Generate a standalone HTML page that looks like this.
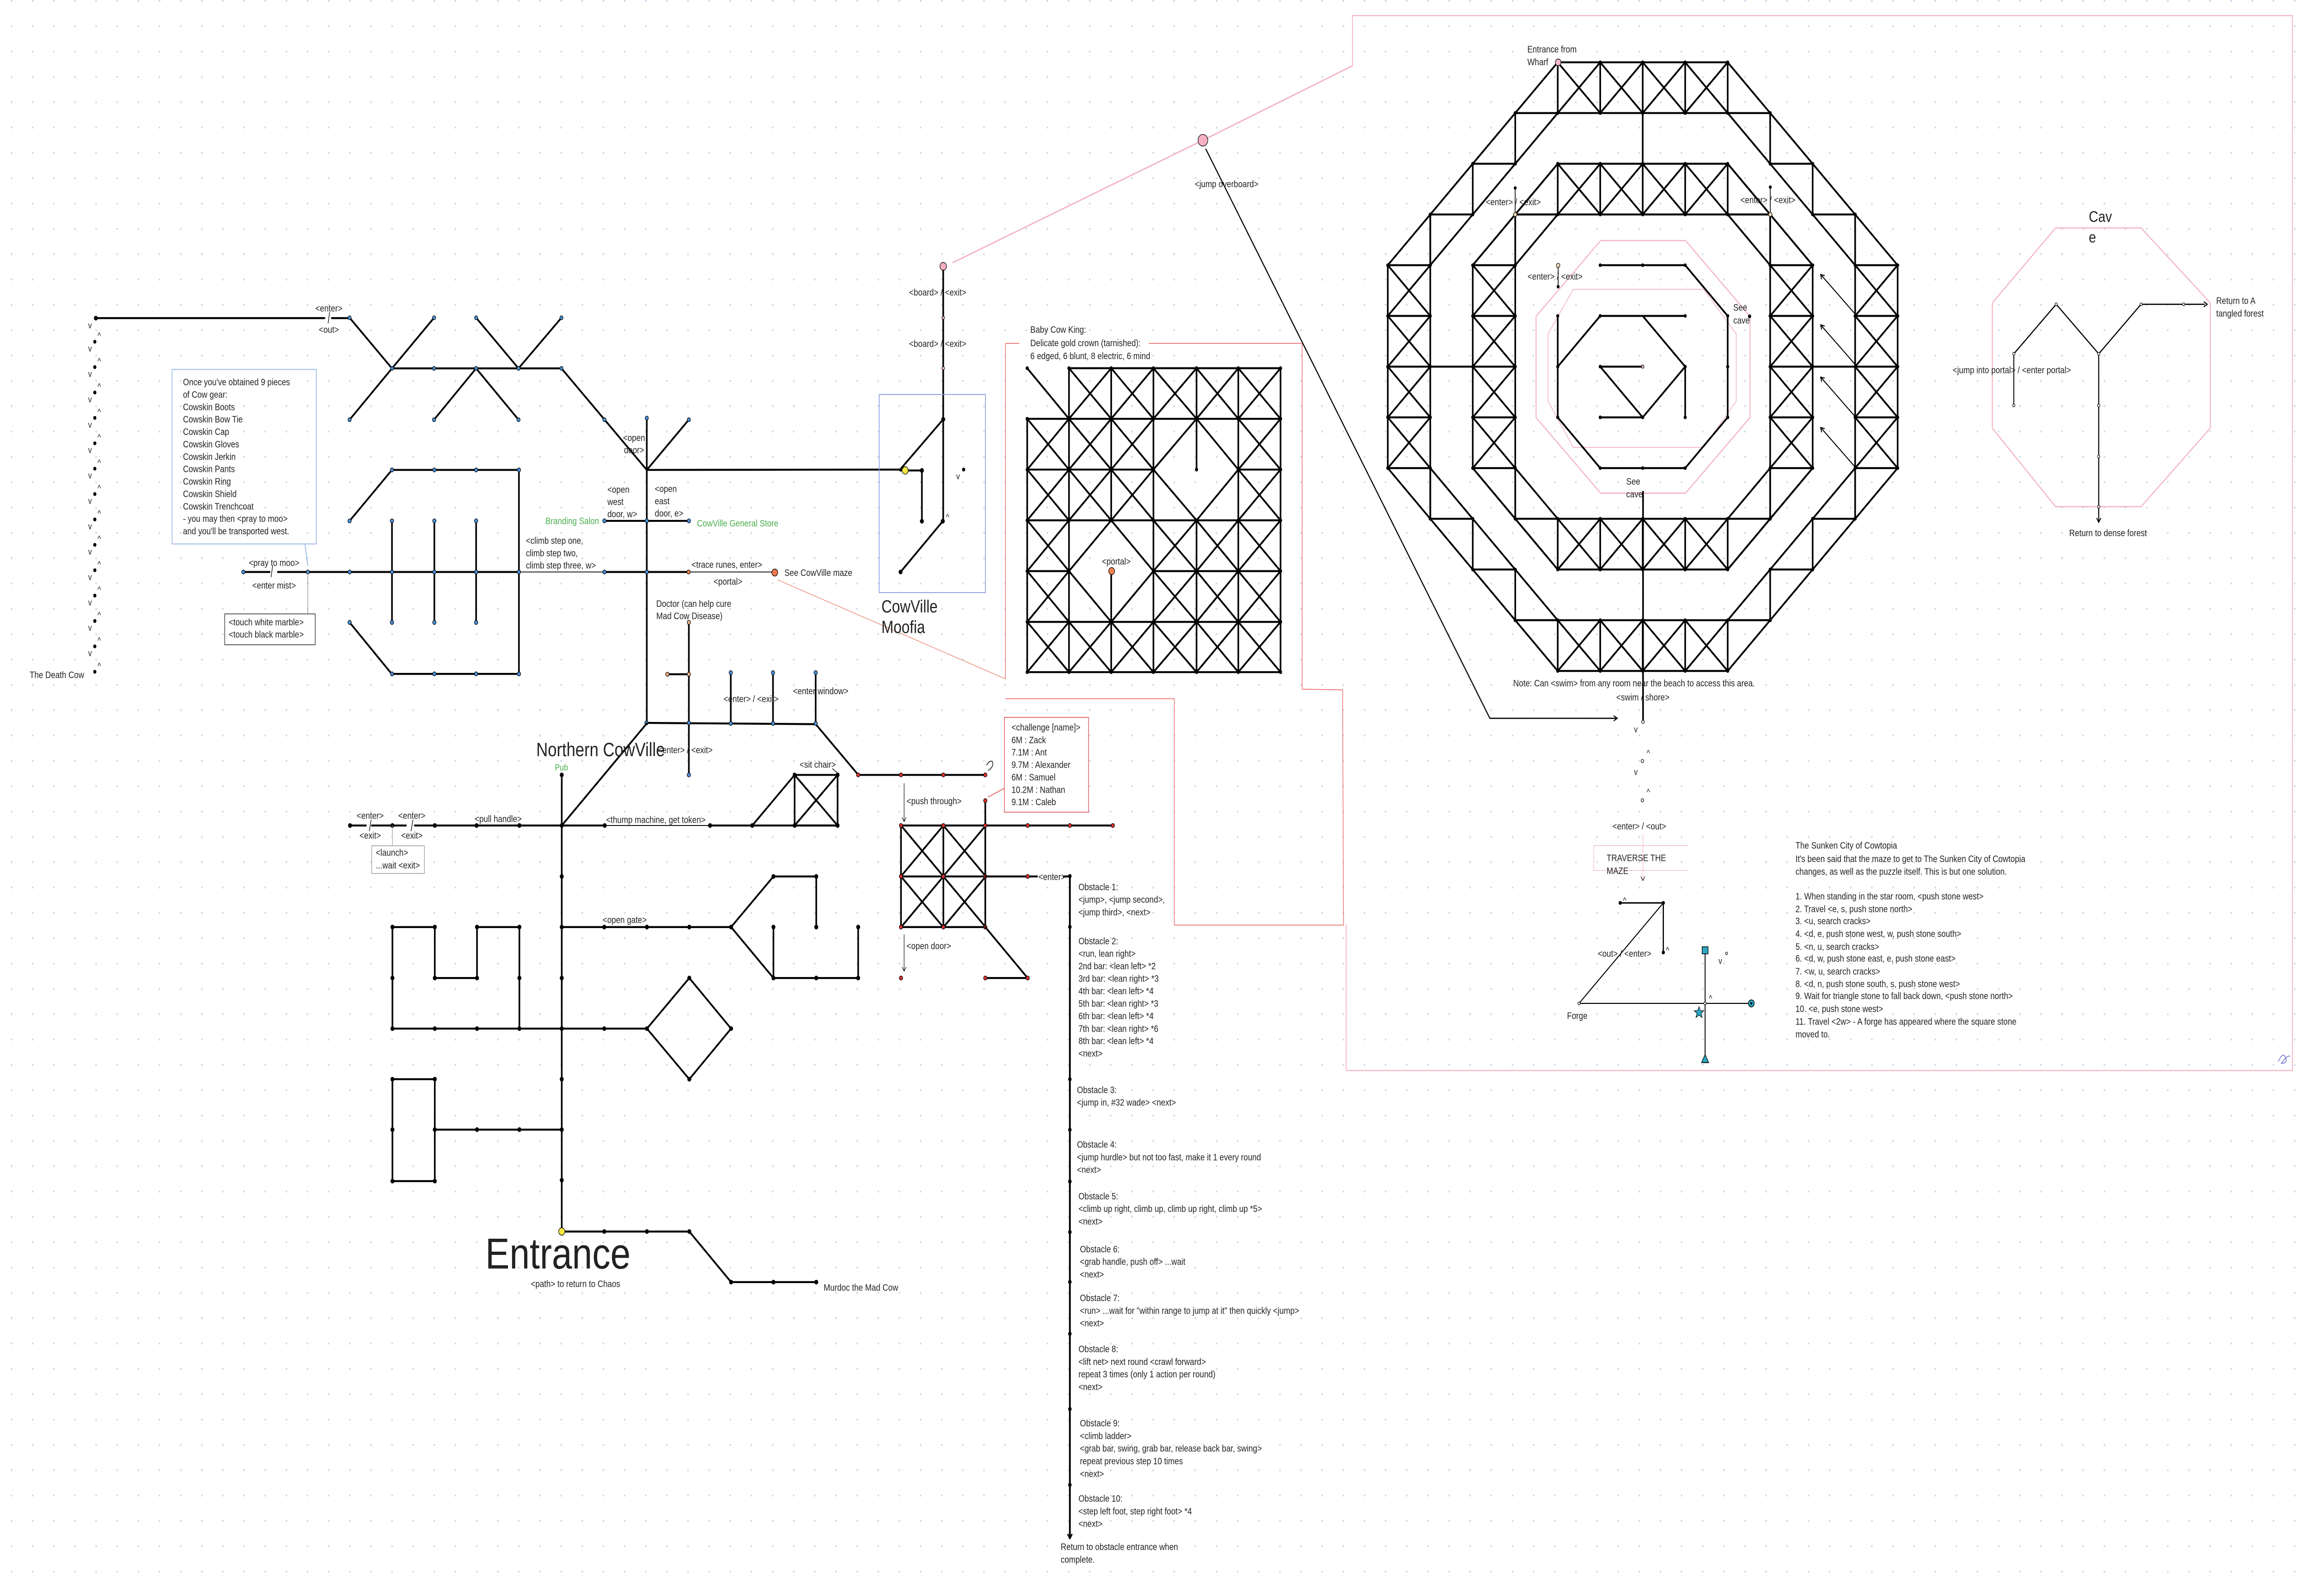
<!DOCTYPE html>
<html><head><meta charset="utf-8"><style>
html,body{margin:0;padding:0;background:#fff;width:100%;height:100%;overflow:hidden;}
svg{display:block;width:100vw;height:100vh;}
text{font-family:"Liberation Sans",sans-serif;fill:#222;font-size:5.3px;}
</style></head><body>
<svg id="s" xmlns="http://www.w3.org/2000/svg" viewBox="0 0 1560 899" preserveAspectRatio="none">
<defs>
<pattern id="dots" x="7.3" y="0" width="14.27" height="14.27" patternUnits="userSpaceOnUse">
<circle cx="0.5" cy="0.5" r="0.55" fill="#c3d5f0"/>
</pattern>
</defs>
<rect width="1560" height="899" fill="#fff"/>
<rect width="1560" height="899" fill="url(#dots)"/>
<g id="shapes"></g>
<g id="texts">
<text x="20" y="382">The Death Cow</text>
<text x="222" y="175.5" text-anchor="middle">&lt;enter&gt;</text>
<text x="222" y="187.5" text-anchor="middle">&lt;out&gt;</text>
<rect x="116.2" y="208.1" width="97.3" height="98.3" fill="none" stroke="#a9c2ec" stroke-width="0.6"/>
<g>
<text x="123.5" y="217">Once you've obtained 9 pieces</text>
<text x="123.5" y="224">of Cow gear:</text>
<text x="123.5" y="231">Cowskin Boots</text>
<text x="123.5" y="238">Cowskin Bow Tie</text>
<text x="123.5" y="245">Cowskin Cap</text>
<text x="123.5" y="252">Cowskin Gloves</text>
<text x="123.5" y="259">Cowskin Jerkin</text>
<text x="123.5" y="266">Cowskin Pants</text>
<text x="123.5" y="273">Cowskin Ring</text>
<text x="123.5" y="280">Cowskin Shield</text>
<text x="123.5" y="287">Cowskin Trenchcoat</text>
<text x="123.5" y="294">- you may then &lt;pray to moo&gt;</text>
<text x="123.5" y="301">and you'll be transported west.</text>
</g>
<text x="185" y="318.8" text-anchor="middle">&lt;pray to moo&gt;</text>
<text x="185" y="331.6" text-anchor="middle">&lt;enter mist&gt;</text>
<rect x="151.7" y="345.8" width="61.1" height="17.4" fill="#fff" stroke="#555" stroke-width="0.5"/>
<text x="154.4" y="352.2">&lt;touch white marble&gt;</text>
<text x="154.4" y="359.2">&lt;touch black marble&gt;</text>
<text x="428" y="248.4" text-anchor="middle">&lt;open</text>
<text x="428" y="255.3" text-anchor="middle">door&gt;</text>
<text x="410" y="277.5">&lt;open</text>
<text x="410" y="284.4">west</text>
<text x="410" y="291.3">door, w&gt;</text>
<text x="442" y="277.1">&lt;open</text>
<text x="442" y="284">east</text>
<text x="442" y="291">door, e&gt;</text>
<text x="404.4" y="295.3" text-anchor="end" style="fill:#4caf50">Branding Salon</text>
<text x="470.5" y="296.6" style="fill:#4caf50">CowVille General Store</text>
<text x="355" y="306.3">&lt;climb step one,</text>
<text x="355" y="313.3">climb step two,</text>
<text x="355" y="320.2">climb step three, w&gt;</text>
<text x="490.7" y="319.9" text-anchor="middle">&lt;trace runes, enter&gt;</text>
<text x="491.4" y="329.4" text-anchor="middle">&lt;portal&gt;</text>
<text x="529.5" y="324.4">See CowVille maze</text>
<text x="443" y="341.8">Doctor (can help cure</text>
<text x="443" y="348.7">Mad Cow Disease)</text>
<text x="507" y="395.5" text-anchor="middle">&lt;enter&gt; / &lt;exit&gt;</text>
<text x="554" y="391" text-anchor="middle">&lt;enter window&gt;</text>
<text x="362" y="426" style="font-size:10.8px">Northern CowVille</text>
<text x="462.5" y="424.3" text-anchor="middle">&lt;enter&gt; / &lt;exit&gt;</text>
<text x="379" y="434" text-anchor="middle" style="fill:#4caf50;font-size:5px">Pub</text>
<text x="249.9" y="461.2" text-anchor="middle">&lt;enter&gt;</text>
<text x="249.9" y="472.4" text-anchor="middle">&lt;exit&gt;</text>
<text x="278" y="461.2" text-anchor="middle">&lt;enter&gt;</text>
<text x="278" y="472.4" text-anchor="middle">&lt;exit&gt;</text>
<rect x="250.9" y="476.4" width="35.6" height="15.6" fill="#fff" stroke="#999" stroke-width="0.4"/>
<text x="253.7" y="482.1">&lt;launch&gt;</text>
<text x="253.7" y="489.2">...wait &lt;exit&gt;</text>
<text x="336.3" y="463.1" text-anchor="middle">&lt;pull handle&gt;</text>
<text x="442.7" y="463.5" text-anchor="middle">&lt;thump machine, get token&gt;</text>
<text x="552" y="432.5" text-anchor="middle">&lt;sit chair&gt;</text>
<text x="421.7" y="519.9" text-anchor="middle">&lt;open gate&gt;</text>
<text x="327.6" y="714.5" style="font-size:24.5px">Entrance</text>
<text x="388.5" y="725" text-anchor="middle">&lt;path&gt; to return to Chaos</text>
<text x="556" y="727">Murdoc the Mad Cow</text>
<text x="633" y="166.5" text-anchor="middle">&lt;board&gt; / &lt;exit&gt;</text>
<text x="633" y="195.4" text-anchor="middle">&lt;board&gt; / &lt;exit&gt;</text>
<rect x="593.5" y="222.2" width="71.7" height="111.6" fill="none" stroke="#8d9de0" stroke-width="0.5"/>
<text x="595" y="345" style="font-size:9.8px">CowVille</text>
<text x="595" y="356.5" style="font-size:9.8px">Moofia</text>
<text x="695.5" y="187.5">Baby Cow King:</text>
<text x="695.5" y="195">Delicate gold crown (tarnished):</text>
<text x="695.5" y="202.3">6 edged, 6 blunt, 8 electric, 6 mind</text>
<text x="753.5" y="318" text-anchor="middle">&lt;portal&gt;</text>
<text x="828" y="105.5" text-anchor="middle">&lt;jump overboard&gt;</text>
<rect x="678" y="404.1" width="56.8" height="53.4" fill="#fff" stroke="#e06a6a" stroke-width="0.5"/>
<text x="682.8" y="411.5">&lt;challenge [name]&gt;</text>
<text x="682.8" y="418.6">6M : Zack</text>
<text x="682.8" y="425.6">7.1M : Ant</text>
<text x="682.8" y="432.6">9.7M : Alexander</text>
<text x="682.8" y="439.6">6M : Samuel</text>
<text x="682.8" y="446.6">10.2M : Nathan</text>
<text x="682.8" y="453.6">9.1M : Caleb</text>
<text x="612" y="453">&lt;push through&gt;</text>
<text x="612" y="534.6">&lt;open door&gt;</text>
<text x="701" y="495.7">&lt;enter&gt;</text>
<g>
<text x="728" y="501.4">Obstacle 1:</text>
<text x="728" y="508.5">&lt;jump&gt;, &lt;jump second&gt;,</text>
<text x="728" y="515.6">&lt;jump third&gt;, &lt;next&gt;</text>
<text x="728" y="531.9">Obstacle 2:</text>
<text x="728" y="538.9">&lt;run, lean right&gt;</text>
<text x="728" y="546">2nd bar: &lt;lean left&gt; *2</text>
<text x="728" y="553">3rd bar: &lt;lean right&gt; *3</text>
<text x="728" y="560">4th bar: &lt;lean left&gt; *4</text>
<text x="728" y="567.1">5th bar: &lt;lean right&gt; *3</text>
<text x="728" y="574.1">6th bar: &lt;lean left&gt; *4</text>
<text x="728" y="581.2">7th bar: &lt;lean right&gt; *6</text>
<text x="728" y="588.2">8th bar: &lt;lean left&gt; *4</text>
<text x="728" y="595.2">&lt;next&gt;</text>
<text x="727" y="615.7">Obstacle 3:</text>
<text x="727" y="622.8">&lt;jump in, #32 wade&gt; &lt;next&gt;</text>
<text x="727" y="646.5">Obstacle 4:</text>
<text x="727" y="653.6">&lt;jump hurdle&gt; but not too fast, make it 1 every round</text>
<text x="727" y="660.7">&lt;next&gt;</text>
<text x="728" y="675.6">Obstacle 5:</text>
<text x="728" y="682.7">&lt;climb up right, climb up, climb up right, climb up *5&gt;</text>
<text x="728" y="689.8">&lt;next&gt;</text>
<text x="729" y="705.4">Obstacle 6:</text>
<text x="729" y="712.5">&lt;grab handle, push off&gt; ...wait</text>
<text x="729" y="719.6">&lt;next&gt;</text>
<text x="729" y="732.9">Obstacle 7:</text>
<text x="729" y="740">&lt;run&gt; ...wait for "within range to jump at it" then quickly &lt;jump&gt;</text>
<text x="729" y="747.1">&lt;next&gt;</text>
<text x="728" y="761.7">Obstacle 8:</text>
<text x="728" y="768.8">&lt;lift net&gt; next round &lt;crawl forward&gt;</text>
<text x="728" y="775.9">repeat 3 times (only 1 action per round)</text>
<text x="728" y="783">&lt;next&gt;</text>
<text x="729" y="803.4">Obstacle 9:</text>
<text x="729" y="810.6">&lt;climb ladder&gt;</text>
<text x="729" y="817.7">&lt;grab bar, swing, grab bar, release back bar, swing&gt;</text>
<text x="729" y="824.8">repeat previous step 10 times</text>
<text x="729" y="832">&lt;next&gt;</text>
<text x="728" y="845.9">Obstacle 10:</text>
<text x="728" y="853">&lt;step left foot, step right foot&gt; *4</text>
<text x="728" y="860.1">&lt;next&gt;</text>
<text x="716" y="873.1">Return to obstacle entrance when</text>
<text x="716" y="880.2">complete.</text>
</g>
<text x="1031" y="29.5">Entrance from</text>
<text x="1031" y="36.7">Wharf</text>
<text x="1021.5" y="115.6" text-anchor="middle">&lt;enter&gt; / &lt;exit&gt;</text>
<text x="1193.4" y="114.4" text-anchor="middle">&lt;enter&gt; / &lt;exit&gt;</text>
<text x="1049.7" y="157.5" text-anchor="middle">&lt;enter&gt; / &lt;exit&gt;</text>
<text x="1170" y="175">See</text>
<text x="1170" y="182.2">cave</text>
<text x="1102.5" y="273" text-anchor="middle">See</text>
<text x="1103.3" y="280.2" text-anchor="middle">cave</text>
<text x="1021.5" y="386.6">Note: Can &lt;swim&gt; from any room near the beach to access this area.</text>
<text x="1109" y="394.6" text-anchor="middle">&lt;swim / shore&gt;</text>
<text x="1106.6" y="467.2" text-anchor="middle">&lt;enter&gt; / &lt;out&gt;</text>
<text x="1084.5" y="485.1">TRAVERSE THE</text>
<text x="1084.5" y="492.3">MAZE</text>
<text x="1096.6" y="538.9" text-anchor="middle">&lt;out&gt; / &lt;enter&gt;</text>
<text x="1064.7" y="574" text-anchor="middle">Forge</text>
<g>
<text x="1212" y="478">The Sunken City of Cowtopia</text>
<text x="1212" y="485.5">It's been said that the maze to get to The Sunken City of Cowtopia</text>
<text x="1212" y="492.7">changes, as well as the puzzle itself. This is but one solution.</text>
<text x="1212" y="506.6">1. When standing in the star room, &lt;push stone west&gt;</text>
<text x="1212" y="513.8">2. Travel &lt;e, s, push stone north&gt;</text>
<text x="1212" y="520.6">3. &lt;u, search cracks&gt;</text>
<text x="1212" y="527.8">4. &lt;d, e, push stone west, w, push stone south&gt;</text>
<text x="1212" y="535">5. &lt;n, u, search cracks&gt;</text>
<text x="1212" y="541.7">6. &lt;d, w, push stone east, e, push stone east&gt;</text>
<text x="1212" y="548.9">7. &lt;w, u, search cracks&gt;</text>
<text x="1212" y="556">8. &lt;d, n, push stone south, s, push stone west&gt;</text>
<text x="1212" y="562.8">9. Wait for triangle stone to fall back down, &lt;push stone north&gt;</text>
<text x="1212" y="570">10. &lt;e, push stone west&gt;</text>
<text x="1212" y="577.2">11. Travel &lt;2w&gt; - A forge has appeared where the square stone</text>
<text x="1212" y="584.4">moved to.</text>
</g>
<text x="1410" y="125" style="font-size:8.8px">Cav</text>
<text x="1410" y="136.5" style="font-size:8.8px">e</text>
<text x="1496" y="171.2">Return to A</text>
<text x="1496" y="178.4">tangled forest</text>
<text x="1358" y="210.3" text-anchor="middle">&lt;jump into portal&gt; / &lt;enter portal&gt;</text>
<text x="1423" y="302" text-anchor="middle">Return to dense forest</text>
</g>
</svg>
<script>
(function(){
var S=[];
function l(a,b,c,d,w,col){S.push('<line x1="'+a+'" y1="'+b+'" x2="'+c+'" y2="'+d+'" stroke="'+(col||'#000')+'" stroke-width="'+(w||1.1)+'" stroke-linecap="round"/>');}
function p(pts,w,col,closed){S.push('<'+(closed?'polygon':'polyline')+' points="'+pts.map(function(q){return q[0]+','+q[1]}).join(' ')+'" fill="none" stroke="'+(col||'#000')+'" stroke-width="'+(w||1.1)+'" stroke-linejoin="round"/>');}
function n(x,y,f,r){S.push('<circle cx="'+x+'" cy="'+y+'" r="'+(r||1.15)+'" fill="'+(f||'#000')+'" stroke="#000" stroke-width="0.35"/>');}
function t(x,y,s,sz){S.push('<text x="'+x+'" y="'+y+'" style="font-size:'+(sz||5.5)+'px">'+s+'</text>');}
function arr(x,y,dx,dy,w){var L=Math.hypot(dx,dy),ux=dx/L,uy=dy/L,s=2.2;l(x,y,x-ux*s-uy*s*0.6,y-uy*s+ux*s*0.6,w||0.6);l(x,y,x-ux*s+uy*s*0.6,y-uy*s-ux*s*0.6,w||0.6);}
var B='#4a90d9';
t(59.5,185,'v',5);
for(var k=0;k<14;k++){var y=192.5+14.3*k;n(64,y,'#000',0.9);t(65.8,y-1.6,'^',5);if(k<13)t(59.5,y+5.5,'v',5);}
l(64.7,179.2,219,179.2);l(224,179.2,236,179.2);l(222.5,176,221.5,182,0.4);n(64.7,179.2);
l(236,179,264.6,207.5);l(293,179,264.6,207.5);l(264.6,207.5,236,236.4);
l(321.4,179,350,207.5);l(379,179,350,207.5);
l(321.4,207.5,293,236.4);l(321.4,207.5,350,236.4);
l(264.6,207.5,379,207.5);
l(379,207.5,436.6,264.7);l(436.6,235.5,436.6,264.7);l(465,236.4,436.6,264.7);
[[236,179],[293,179],[321.4,179],[379,179],[264.6,207.5],[293,207.5],[321.4,207.5],[350,207.5],[379,207.5],[236,236.4],[293,236.4],[350,236.4],[408,236.4],[436.6,235.5],[465,236.4]].forEach(function(q){n(q[0],q[1],B,1.1)});
l(436.6,264.7,607.6,264.5);
l(436.6,264.7,436.6,407.5);
l(408,293.4,465,293.4);n(408,293.4,B);n(436.6,293.4,B);n(465,293.4,B);
l(164.3,322.2,182,322.2);l(187.6,322.2,350.3,322.2);l(184,319,183,325,0.4);
l(350.3,322.2,408,322.2,0.45);l(408,322.2,464.8,322.2);l(464.8,322.2,522,322.2,0.45);
n(164.3,322.2,B);n(207.8,322.2,B);n(408,322.2,B);n(436.6,322.2,B);n(464.8,322.2,'#f08050');n(523,322.5,'#f07850',2);
l(205.8,306.4,207.8,318.6,0.35,'#5b8fe0');l(207.8,322.2,207.8,345.8,0.35,'#888');
l(236,293.4,264.6,264.7);l(264.6,264.7,350.3,264.7);l(350.3,264.7,350.3,379.6);
l(236,350.6,264.6,379.8);l(264.6,379.6,350.3,379.6);
[264.6,293.2,321.4].forEach(function(x){l(x,293.4,x,350.6);n(x,293.4,B);n(x,350.6,B);n(x,264.7,B);n(x,379.6,B);n(x,322.2,B);});
n(236,322.2,B);n(350.3,322.2,B);n(236,293.4,B);n(236,350.6,B);n(350.3,264.7,B);n(350.3,379.6,B);
l(465,350.6,465,436.5);l(450.5,379.8,465,379.8);n(450.5,379.8,'#f0b080');n(465,379.8,'#f0b080');n(465,350.6,'#f0b080');
l(436.4,407.2,550.6,407.9);l(550.6,407.9,579.4,436.5);
[493.3,521.8,550.6].forEach(function(x){l(x,378.9,x,407.5);n(x,378.9,B);n(x,407.5,B);});
n(436.4,407.2,B);n(465,407.2,B);n(465,436.5,B);
l(436.6,407.5,379.2,465);
l(379.2,436.5,379.2,693.7);
[436.5,465,493.7,522.2,550.9,579.4,607.9,636.3,664.8].forEach(function(y){n(379.2,y)});
l(236.3,465,247,465);l(251,465,274,465);l(280,465,408.2,465);l(408.2,465,479.3,465,0.5);l(479.3,465,565.4,465);
l(250.5,462,249.3,468,0.4);l(278.7,462,277.5,468,0.4);
[236.3,264.9,293.5,321.7,350.6,408.2,479.3,507.8,536.4,565.4].forEach(function(x){n(x,465)});
l(264.9,465,264.9,476.4,0.35,'#999');
p([[536.4,436.5],[565.4,436.5],[565.4,465],[536.4,465]],1.1,'#000',true);
l(536.4,436.5,565.4,465);l(565.4,436.5,536.4,465);l(507.8,465,536.4,436.5);
n(536.4,436.5);n(565.4,436.5);l(562,433,566,436,0.4);
l(379.2,522.2,493.5,522.2);[407.9,436.7,465.3,493.5].forEach(function(x){n(x,522.2)});
l(493.5,522.2,522.1,493.7);l(493.5,522.2,522.1,550.9);
l(522.1,493.7,551,493.7);l(551,493.7,551,522.2);n(522.1,493.7);n(551,493.7);n(551,522.2);
l(522.1,522.2,522.1,550.9);l(522.1,550.9,579.3,550.9);l(579.3,522.2,579.3,550.9);
n(522.1,522.2);n(522.1,550.9);n(551,550.9);n(579.3,550.9);n(579.3,522.2);
l(264.9,579.4,436.7,579.4);[264.9,293.5,322,350.6,407.9,436.7].forEach(function(x){n(x,579.4)});
p([[436.7,579.4],[465.3,550.9],[493.5,579.4],[465.3,607.9]],1.1,'#000',true);n(465.3,550.9);n(493.5,579.4);n(465.3,607.9);
p([[264.9,579.4],[264.9,522.2],[293.5,522.2],[293.5,550.9],[322,550.9],[322,522.2],[350.6,522.2],[350.6,579.4]]);
[[264.9,522.2],[293.5,522.2],[264.9,550.9],[293.5,550.9],[322,550.9],[322,522.2],[350.6,522.2],[350.6,550.9]].forEach(function(q){n(q[0],q[1])});
p([[264.9,607.9],[293.5,607.9],[293.5,665.3],[264.9,665.3]],1.1,'#000',true);
l(293.5,636.3,379.2,636.3);[[264.9,607.9],[293.5,607.9],[293.5,665.3],[264.9,665.3],[264.9,636.3],[293.5,636.3],[322,636.3],[350.6,636.3]].forEach(function(q){n(q[0],q[1])});
l(379.2,693.7,465.3,693.7);l(465.3,693.7,493.5,722.2);l(493.5,722.2,551,722.2);
[407.9,436.7,465.3,493.5,522.1,551].forEach(function(x){n(x,x==493.5||x==522.1||x==551?722.2:693.7)});
n(379.2,693.7,'#f5e642',2.1);
var PK='#f4b6c6';
p([[643,148],[812,79],[913,37]],0.8,PK);
n(812,79,'#f7b0c4',3.3);
l(814,84,1005.7,404.6,0.7);l(1005.7,404.6,1091.7,404.6,0.7);arr(1091.7,404.6,1,0);
l(636.7,150,636.7,292.9);n(636.7,150,'#f6b0c0',2.2);n(636.7,179,'#f6c0c8',0.9);n(636.7,207.4,'#f6c0c8',0.9);
l(636.7,236.2,607.6,264.5);l(607.6,265,622.3,265);l(622.3,265,622.3,293.6);n(636.7,236.2);n(622.3,265);n(622.3,293.6);
l(636.4,293.6,607.9,322.2);n(636.4,293.6);n(607.9,322.2);
n(611,265,'#f5e642',2.1);
n(650.5,264.5,'#000',0.9);t(645.5,270,'v',5);t(638.5,293,'^',5);
l(524.9,326.6,678.7,382.4,0.4,'#e8907a');
var RD='#ef6f6f';
p([[688,193.4],[678.7,193.4],[678.7,382.4]],0.45,RD);
p([[775.5,193.4],[879,193.4],[879,388.2],[906.3,388.6],[906.9,521.1],[792.7,521.1],[792.7,393.6],[678.7,393.6]],0.45,RD);
var GX=[693.4,721.6,750.1,778.6,807.7,835.9,864.4],GY=[207.4,235.9,264.5,293.1,321.7,350.3,378.6];
function skip(c,r){var s=[[3,1],[4,1],[3,2],[4,2],[1,3],[2,3],[1,4],[2,4],[0,0]];return s.some(function(q){return q[0]==c&&q[1]==r});}
for(var c=0;c<6;c++)for(var r=0;r<6;r++){if(!skip(c,r)){l(GX[c],GY[r],GX[c+1],GY[r+1]);l(GX[c+1],GY[r],GX[c],GY[r+1]);}}
l(693.4,207.4,721.6,235.9);
for(var r=0;r<7;r++){
 if(r==0){l(721.6,GY[0],864.4,GY[0]);}
 else if(r==2){l(693.4,GY[2],778.6,GY[2]);l(835.9,GY[2],864.4,GY[2]);}
 else if(r==4){l(693.4,GY[4],721.6,GY[4]);l(778.6,GY[4],864.4,GY[4]);}
 else l(693.4,GY[r],864.4,GY[r]);}
for(var c=0;c<7;c++){
 if(c==0)l(GX[0],GY[1],GX[0],GY[6]);
 else if(c==4){l(GX[4],GY[0],GX[4],GY[1]);l(GX[4],GY[3],GX[4],GY[6]);l(GX[4],GY[1],GX[4],GY[2]);}
 else if(c==2){l(GX[2],GY[0],GX[2],GY[3]);l(GX[2],GY[5],GX[2],GY[6]);l(GX[2],GY[4],GX[2],GY[5]);}
 else l(GX[c],GY[0],GX[c],GY[6]);}
p([[778.6,264.5],[807.7,235.9],[835.9,264.5],[807.7,293.1]],1.1,'#000',true);
p([[721.6,321.7],[750.1,293.1],[778.6,321.7],[750.1,350.3]],1.1,'#000',true);
for(var c=0;c<7;c++)for(var r=0;r<7;r++){if(!(c==0&&r==0))n(GX[c],GY[r],'#000',0.9);}n(693.4,207.4,'#000',0.9);
n(750.4,321.7,'#f08050',2);
var RN='#e03030';
l(579.3,436.5,665.1,436.5);[579.3,608.2,636.8,665.1].forEach(function(x){n(x,436.5,RN)});
S.push('<path d="M667,434 q4,-2 3,-5 q-2,-1 -4,2" fill="none" stroke="#000" stroke-width="0.4"/>');
l(610.3,441.3,610.3,462.8,0.35);arr(610.3,462.8,0,1,0.35);
l(665.1,451,665.1,465);n(665.1,451,RN);l(667,449,678,444,0.4,'#e04040');
p([[608.2,465],[665.1,465],[665.1,522.2],[608.2,522.2]],1.1,'#000',true);l(608.2,493.7,665.1,493.7);l(636.8,465,636.8,522.2);
[[608.2,465],[636.8,465],[608.2,493.7],[636.8,493.7]].forEach(function(q){l(q[0],q[1],q[0]+28.6,q[1]+28.6);l(q[0]+28.6,q[1],q[0],q[1]+28.6);});
l(665.1,465,751.2,465);[608.2,636.8,665.1,693.7,722.2,751.2].forEach(function(x){n(x,465,RN)});
[608.2,636.8,665.1].forEach(function(x){n(x,493.7,RN);n(x,522.2,RN)});
l(665.1,493.7,700,493.7);l(718,493.7,722.2,493.7);n(693.7,493.7,RN);
l(610.3,526.5,610.3,547,0.35);arr(610.3,547,0,1,0.35);n(608.2,550.9,RN);
l(665.1,522.2,693.7,550.9);l(665.1,550.9,693.7,550.9);n(665.1,550.9,RN);n(693.7,550.9,RN);
l(722.2,493.5,722.2,866.2,1.2);arr(722.2,866.6,0,1,0.9);
[493.5,522.1,607.9,636.4,665.5,694,722.1,751.3,793.7,836.4].forEach(function(y){n(722.2,y,'#000',1)});
p([[913,8.8],[1547.5,8.8],[1547.5,603],[908.7,603]],0.6,PK);l(913,8.8,913,37,0.6,PK);l(908.7,521,908.7,603,0.6,PK);
S.push('<path d="M1538,598 q3,-6 5,-2 q1,3 -3,3 q4,-5 6,-4" fill="none" stroke="#5566cc" stroke-width="0.4"/>');
function G(i,j){return [936.8+i*28.68,35.1+j*28.57];}
function gl(a,b,c,d,w){var P=G(a,b),Q=G(c,d);l(P[0],P[1],Q[0],Q[1],w);}
function gp(arr,closed,w,col){p(arr.map(function(q){return G(q[0],q[1])}),w||1.1,col||'#000',closed);}
function sym(f){var T=[function(i,j){return[i,j]},function(i,j){return[12-i,j]},function(i,j){return[i,12-j]},function(i,j){return[12-i,12-j]},function(i,j){return[j,i]},function(i,j){return[12-j,i]},function(i,j){return[j,12-i]},function(i,j){return[12-j,12-i]}];T.forEach(function(tr){f(tr);});}
gp([[4,0],[8,0],[12,4],[12,8],[8,12],[4,12],[0,8],[0,4]],true);
gp([[4,2],[8,2],[10,4],[10,8],[8,10],[4,10],[2,8],[2,4]],true);
var segs=[];
sym(function(tr){
 for(var i=4;i<8;i++){var a=tr(i,0),b=tr(i+1,1);var c=tr(i+1,0),d=tr(i,1);segs.push([a,b]);segs.push([c,d]);}
 for(var i=4;i<=8;i++){segs.push([tr(i,0),tr(i,1)]);}
 segs.push([tr(3,1),tr(9,1)]);
 segs.push([tr(8,1),tr(11,4)]);
 segs.push([tr(9,1),tr(9,2)]);segs.push([tr(9,2),tr(10,2)]);segs.push([tr(10,2),tr(10,3)]);segs.push([tr(10,3),tr(11,3)]);segs.push([tr(11,3),tr(11,4)]);
 for(var i=4;i<8;i++){segs.push([tr(i,2),tr(i+1,3)]);segs.push([tr(i+1,2),tr(i,3)]);}
 for(var i=4;i<=8;i++){segs.push([tr(i,2),tr(i,3)]);}
 segs.push([tr(3,3),tr(9,3)]);
 segs.push([tr(8,3),tr(9,4)]);segs.push([tr(9,3),tr(9,4)]);
 segs.push([tr(8,2),tr(9,3)]);
});
var seen={};
segs.forEach(function(s){var k=[s[0],s[1]].map(String).sort().join('|');if(seen[k])return;seen[k]=1;gl(s[0][0],s[0][1],s[1][0],s[1][1]);});
sym(function(tr){[[4,0],[5,0],[6,0],[7,0],[8,0],[3,1],[4,1],[5,1],[6,1],[7,1],[8,1],[9,1],[9,2],[10,2],[10,3],[11,3],[4,2],[5,2],[6,2],[7,2],[8,2],[3,3],[4,3],[5,3],[6,3],[7,3],[8,3],[9,3],[9,4]].forEach(function(q){var r=tr(q[0],q[1]);var P=G(r[0],r[1]);n(P[0],P[1],'#000',0.85);});});
gl(6,1,6,2);gl(1,6,2,6);gl(10,6,11,6);
p([[1080.5,135.5],[1137.8,135.5],[1181.3,178.2],[1181.3,235.2],[1137.8,277.8],[1080.5,277.8],[1036.9,235.2],[1036.9,178.2]],0.7,PK,true);
p([[1062,163],[1150,163],[1172,188],[1172,226],[1150,252],[1062,252],[1045,226],[1045,188]],0.5,PK,true);
[[5,4,7,4],[7,4,8,5],[8,5,8,7],[8,7,7,8],[7,8,5,8],[5,8,4,7],[4,7,4,5],[5,5,7,5],[5,5,4,6],[6,5,7,6],[7,6,7,7],[7,6,6,7],[5,6,6,6],[5,6,6,7],[5,7,6,7]].forEach(function(s){gl(s[0],s[1],s[2],s[3]);});
[[5,4],[6,4],[7,4],[8,5],[8,6],[8,7],[7,8],[6,8],[5,8],[4,7],[4,6],[4,5],[5,5],[7,5],[7,6],[7,7],[5,6],[5,7],[6,7]].forEach(function(q){var P=G(q[0],q[1]);n(P[0],P[1],'#000',0.85);});
var c6=G(6,6);n(c6[0],c6[1],'#f6c0c8',0.9);
l(1109.1,277,1109.1,406.6);n(1109.1,406.6,'#fff',0.9);
n(1181,178.2,'#000',0.9);
n(1051.8,35.1,'#f7b8c8',1.9);
l(1022.8,105.9,1022.8,120.8,0.5);n(1022.8,105.9,'#000',0.8);n(1022.8,120.8,'#f4d8b8',1.2);
l(1195,105.4,1195,120.8,0.5);n(1195,105.4,'#000',0.8);n(1195,120.8,'#f4d8b8',1.2);
l(1051.8,149.5,1051.8,161.5,0.5);n(1051.8,161.5,'#000',0.8);n(1051.8,149.5,'#f4d8b8',1.2);
[154.6,183,212.4,240.8].forEach(function(y){l(1252,y+22,1229,y,0.6);arr(1229,y,-1,-1,0.6);});
t(1103,412.5,'v',5);n(1108.7,428.7,'#fff',0.9);t(1111.5,426,'^',5);t(1103,436.5,'v',5);n(1108.7,450.8,'#fff',0.9);t(1111.5,448,'^',5);
p([[1139.8,476.3],[1075.9,476.3],[1075.9,490.3]],0.35,PK);l(1075.9,490.3,1139.8,490.3,0.35,PK);
l(1109,470,1109,496,0.35,PK);arr(1109,496,0,1,0.35);
l(1093.7,508.6,1122.8,508.6,0.8);l(1122.8,508.6,1122.8,536.5,0.8);l(1122.8,508.6,1065.9,565.2,0.6);l(1065.9,565.2,1182.2,565.2,0.6);l(1151,535.3,1151,596.7,0.6);
n(1093.7,508.6,'#000',0.9);n(1122.8,508.6,'#000',0.9);n(1122.8,536.5,'#000',0.9);n(1065.9,565.2,'#fff',0.8);n(1151,565.2,'#fff',0.8);
t(1095.5,509,'^',5);t(1124.5,537,'^',5);t(1160,543,'v',5);n(1165.5,537,'#fff',0.7);t(1153.5,564,'^',5);
S.push('<rect x="1149" y="533.3" width="4" height="4" fill="#2aa8c0" stroke="#000" stroke-width="0.4"/>');
S.push('<circle cx="1182.2" cy="565.2" r="2" fill="#2aa8c0" stroke="#000" stroke-width="0.4"/><circle cx="1182.2" cy="565.2" r="0.7" fill="#000"/>');
S.push('<polygon points="1151,594 1153.4,598.6 1148.6,598.6" fill="#2aa8c0" stroke="#000" stroke-width="0.4"/>');
S.push('<polygon points="1146.9,567 1147.8,569.3 1150.2,569.3 1148.3,570.8 1149,573.2 1146.9,571.8 1144.8,573.2 1145.5,570.8 1143.6,569.3 1146,569.3" fill="#2aa8c0" stroke="#000" stroke-width="0.3"/>');
p([[1387.6,128.4],[1445.3,128.4],[1492,170.6],[1492,241.2],[1445.3,285.4],[1387.6,285.4],[1344.9,241.2],[1344.9,170.6]],0.7,PK,true);
l(1359.4,199.3,1388,171.4,0.7);l(1388,171.4,1416.7,199.3,0.7);l(1416.7,199.3,1445.3,171.4,0.7);l(1445.3,171.4,1488,171.4,0.7);arr(1490,171.4,1,0,0.6);
l(1359.4,199.3,1359.4,228.4,0.6);l(1416.7,199.3,1416.7,293.5,0.7);arr(1416.7,294.2,0,1,0.6);
[[1359.4,199.3],[1359.4,228.4],[1388,171.4],[1445.3,171.4],[1474,171.4],[1416.7,199.3],[1416.7,228.4],[1416.7,257.1],[1416.7,285.4]].forEach(function(q){n(q[0],q[1],'#fff',0.8)});
document.getElementById('shapes').innerHTML=S.join('');
})();
</script>
</body></html>
